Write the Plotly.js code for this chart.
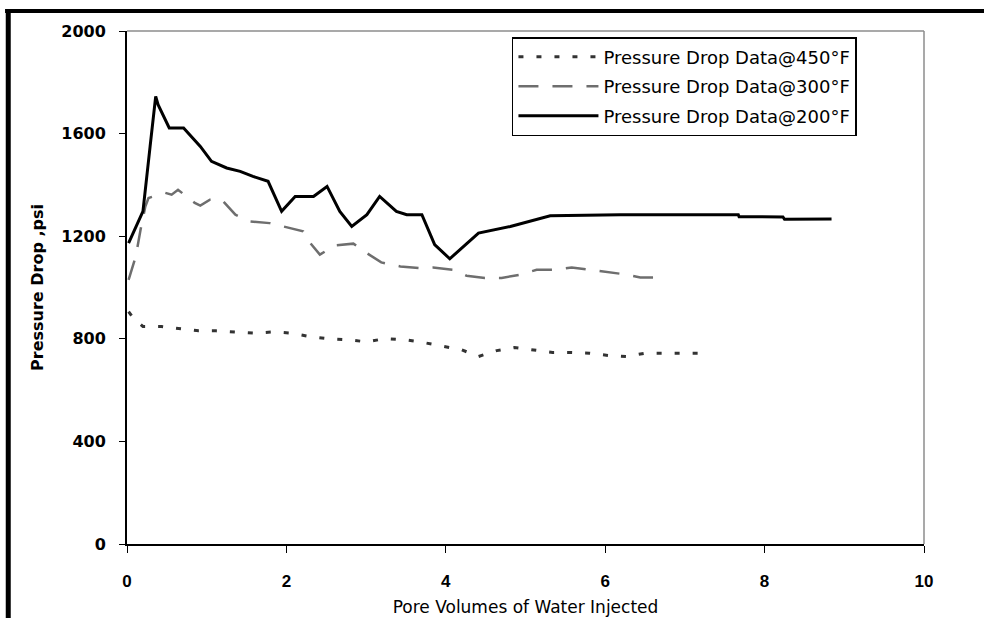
<!DOCTYPE html>
<html>
<head>
<meta charset="utf-8">
<script src="https://cdn.plot.ly/plotly-3.0.1.min.js"></script>
<style>
html,body{margin:0;padding:0;background:#fff;}
#chart{width:984px;height:618px;}
</style>
</head>
<body>
<div id="chart"></div>
<script>
// Pore volumes of water injected (x) and pressure drop in psi (y)
const pv450 = [0.02, 0.08, 0.20, 0.43, 0.68, 0.90, 1.12, 1.36, 1.59, 1.84, 2.06, 2.31, 2.54, 2.78, 3.01, 3.24, 3.49, 3.71, 3.96, 4.20, 4.41, 4.64, 4.86, 5.10, 5.34, 5.57, 5.80, 6.04, 6.27, 6.50, 6.74, 6.97, 7.25];
const dp450 = [906, 880, 848, 848, 839, 831, 831, 826, 822, 827, 822, 808, 800, 796, 788, 801, 796, 786, 770, 757, 731, 754, 766, 757, 747, 747, 744, 735, 731, 744, 744, 744, 744];

const pv300 = [0.02, 0.11, 0.17, 0.23, 0.27, 0.48, 0.56, 0.64, 0.85, 0.92, 1.04, 1.19, 1.36, 1.54, 1.79, 1.96, 2.21, 2.30, 2.42, 2.61, 2.84, 3.01, 3.19, 3.43, 3.66, 3.84, 4.10, 4.26, 4.49, 4.70, 4.93, 5.14, 5.37, 5.58, 5.81, 6.00, 6.23, 6.44, 6.62];
const dp300 = [1030, 1121, 1225, 1316, 1349, 1369, 1362, 1381, 1330, 1319, 1342, 1342, 1284, 1258, 1251, 1238, 1219, 1173, 1128, 1164, 1171, 1134, 1098, 1082, 1076, 1078, 1069, 1046, 1037, 1037, 1050, 1069, 1069, 1078, 1069, 1059, 1052, 1039, 1039];

const pv200 = [0.02, 0.20, 0.29, 0.36, 0.39, 0.53, 0.71, 0.92, 1.06, 1.25, 1.42, 1.58, 1.77, 1.94, 2.11, 2.34, 2.51, 2.67, 2.82, 3.01, 3.17, 3.38, 3.51, 3.70, 3.86, 4.05, 4.41, 4.81, 5.31, 6.19, 7.67, 7.68, 8.23, 8.25, 8.84];
const dp200 = [1173, 1297, 1550, 1745, 1713, 1622, 1622, 1550, 1492, 1466, 1453, 1433, 1414, 1297, 1355, 1355, 1394, 1297, 1238, 1284, 1355, 1297, 1284, 1284, 1167, 1112, 1212, 1238, 1280, 1284, 1284, 1276, 1275, 1266, 1267];

const seriesNames = ["Pressure Drop Data@450°F", "Pressure Drop Data@300°F", "Pressure Drop Data@200°F"];
const xTicks = [0, 2, 4, 6, 8, 10];
const yTicks = [0, 400, 800, 1200, 1600, 2000];

const traces = [
  {x: pv450, y: dp450, name: seriesNames[0], mode: "lines", legendgroup: "a",
   line: {color: "#333333", width: 3, dash: "5px,13px"}},
  {x: pv300, y: dp300, name: seriesNames[1], mode: "lines", legendgroup: "b",
   line: {color: "#6e6e6e", width: 2.5, dash: "20px,14px"}},
  {x: pv200, y: dp200, name: seriesNames[2], mode: "lines", legendgroup: "c",
   line: {color: "#000000", width: 3}}
];

const layout = {
  width: 984, height: 618,
  margin: {l: 127, r: 60, t: 31, b: 74},
  paper_bgcolor: "#ffffff", plot_bgcolor: "#ffffff",
  showlegend: true,
  legend: {
    x: 0.483, y: 0.988, xanchor: "left", yanchor: "top",
    bgcolor: "#ffffff", bordercolor: "#000000", borderwidth: 1.5,
    font: {family: "DejaVu Sans", size: 18, color: "#000"},
    tracegroupgap: 3, itemwidth: 80, traceorder: "grouped"
  },
  xaxis: {
    range: [0, 10], tickvals: xTicks, ticktext: xTicks.map(String),
    ticks: "outside", ticklen: 7, tickwidth: 1, tickcolor: "#000",
    showline: true, linecolor: "#000", linewidth: 2,
    showgrid: false, zeroline: false, ticklabelstandoff: 14,
    tickfont: {family: "Liberation Sans Narrow, Liberation Sans", size: 17, weight: "bold", color: "#000"},
    title: {text: "Pore Volumes of Water Injected", standoff: 11,
            font: {family: "DejaVu Sans", size: 17, color: "#000"}}
  },
  yaxis: {
    range: [0, 2000], tickvals: yTicks, ticktext: yTicks.map(String),
    ticks: "outside", ticklen: 6, tickwidth: 1, tickcolor: "#000",
    showline: true, linecolor: "#000", linewidth: 2,
    showgrid: false, zeroline: false, ticklabelstandoff: 10,
    tickfont: {family: "DejaVu Sans", size: 16, weight: "bold", color: "#000"},
    title: {text: "Pressure Drop ,psi", standoff: 14,
            font: {family: "DejaVu Sans", size: 16, weight: "bold", color: "#000"}}
  },
  shapes: [
    {type: "line", xref: "paper", yref: "paper", x0: 0, x1: 1, y0: 1, y1: 1,
     line: {color: "#8c8c8c", width: 1.5}},
    {type: "line", xref: "paper", yref: "paper", x0: 1, x1: 1, y0: 0, y1: 1,
     line: {color: "#8c8c8c", width: 1.5}},
    {type: "line", xref: "paper", yref: "paper", x0: -0.153, x1: 1.08, y0: 1.039, y1: 1.039,
     line: {color: "#000", width: 4}},
    {type: "line", xref: "paper", yref: "paper", x0: -0.149, x1: -0.149, y0: 1.043, y1: -0.15,
     line: {color: "#000", width: 5}}
  ]
};

Plotly.newPlot("chart", traces, layout, {displayModeBar: false, staticPlot: true});
</script>
</body>
</html>
